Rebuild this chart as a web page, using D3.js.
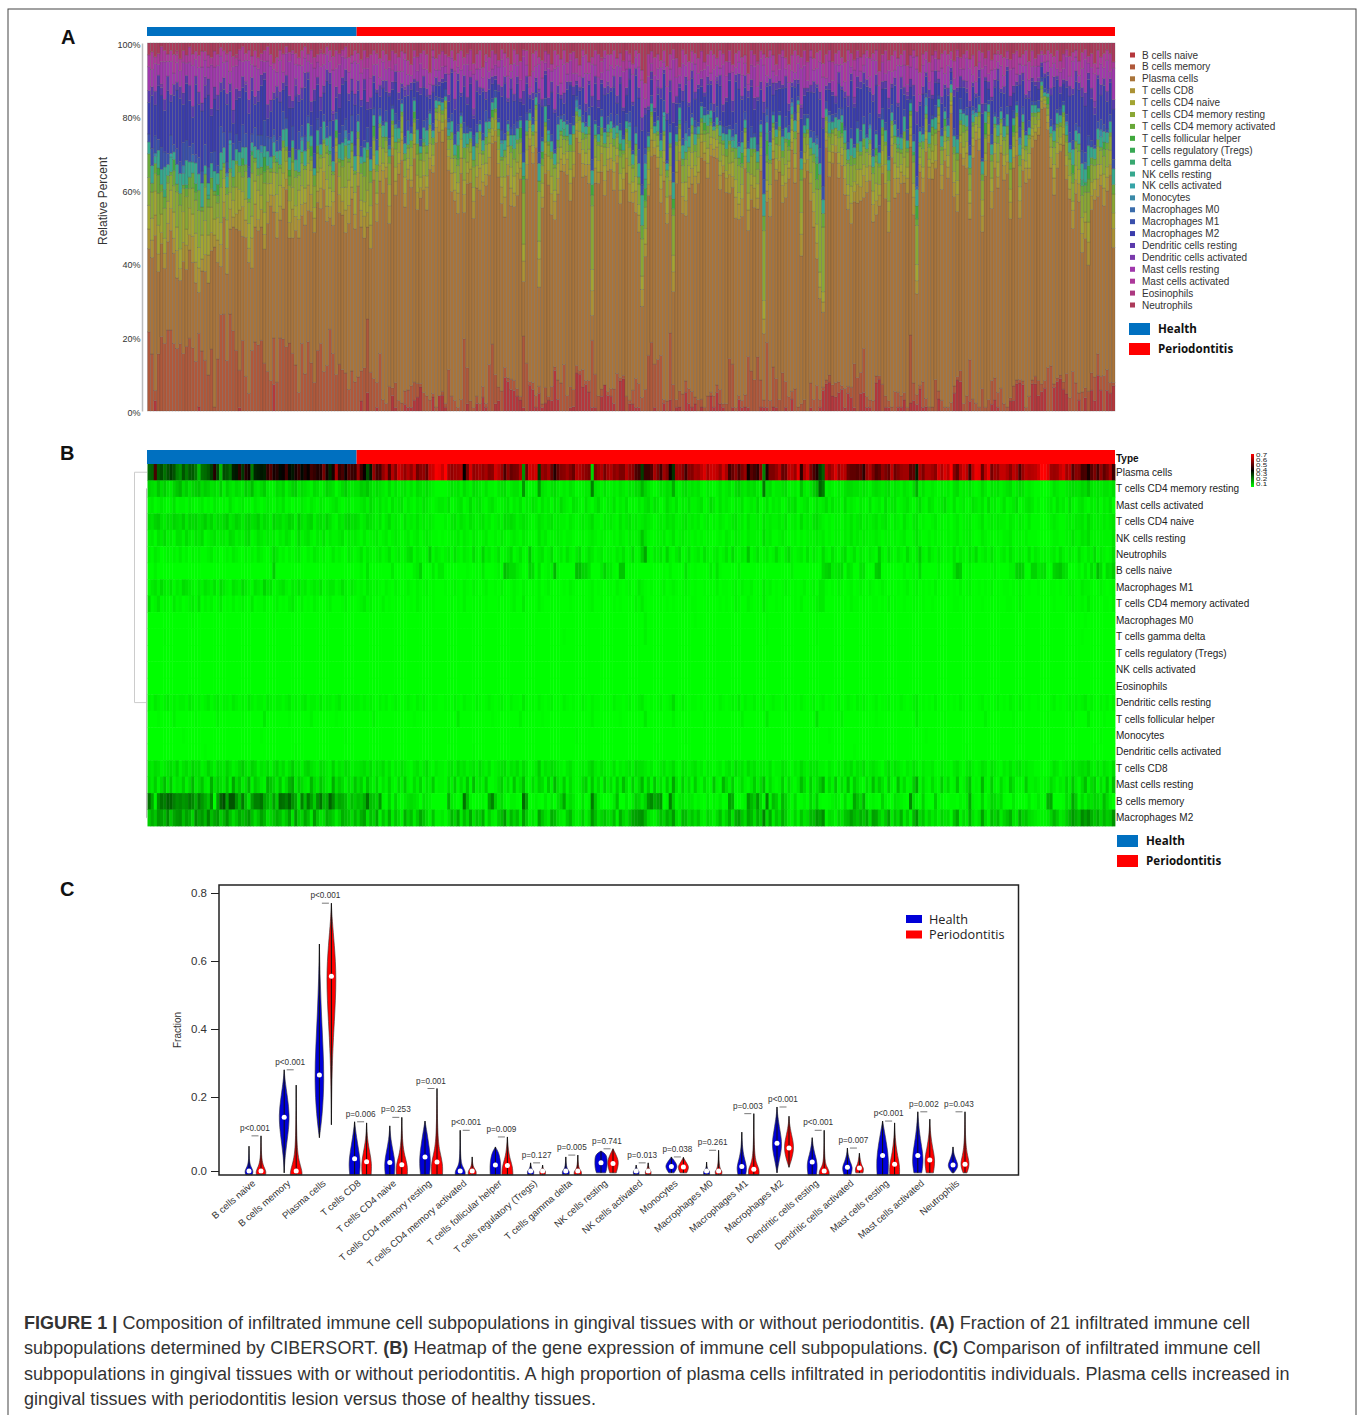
<!DOCTYPE html>
<html>
<head>
<meta charset="utf-8">
<script src="https://cdn.jsdelivr.net/npm/d3@7"></script>
<style>
  body { margin: 0; background: #fff; }
  text { font-family: "Liberation Sans", Arial, sans-serif; }
</style>
</head>
<body>
<div id="fig"></div>
<script>
// cell types, in the order of the stacked bars and of panel C
var cellTypes = ['B cells naive', 'B cells memory', 'Plasma cells', 'T cells CD8', 'T cells CD4 naive', 'T cells CD4 memory resting', 'T cells CD4 memory activated', 'T cells follicular helper', 'T cells regulatory (Tregs)', 'T cells gamma delta', 'NK cells resting', 'NK cells activated', 'Monocytes', 'Macrophages M0', 'Macrophages M1', 'Macrophages M2', 'Dendritic cells resting', 'Dendritic cells activated', 'Mast cells resting', 'Mast cells activated', 'Eosinophils', 'Neutrophils'];
var cellColors = ['#b5373c', '#b0583a', '#a9743a', '#ab9234', '#a3a532', '#8aa734', '#68a838', '#3fa83c', '#37a853', '#38a870', '#36a88e', '#36a4a8', '#3a89a8', '#3a6cac', '#3a50ac', '#3a3cac', '#5a3aac', '#7a3aac', '#a038ac', '#ac389a', '#ac3880', '#ac3a5a'];
var heatmapRows = ['Plasma cells', 'T cells CD4 memory resting', 'Mast cells activated', 'T cells CD4 naive', 'NK cells resting', 'Neutrophils', 'B cells naive', 'Macrophages M1', 'T cells CD4 memory activated', 'Macrophages M0', 'T cells gamma delta', 'T cells regulatory (Tregs)', 'NK cells activated', 'Eosinophils', 'Dendritic cells resting', 'T cells follicular helper', 'Monocytes', 'Dendritic cells activated', 'T cells CD8', 'Mast cells resting', 'B cells memory', 'Macrophages M2'];
var groups = ['Health', 'Periodontitis'];
var healthCount = 67;

// percent per sample: first 67 samples are Health, the rest Periodontitis
var bNaive = [0,0,3,0,0,0,0,0,0,0,0,0,0,0,0,0,1,0,0,0,0,0,0,0,0,0,0,0,0,1,0,0,0,0,0,0,0,0,0,0,8,0,0,0,0,0,0,0,0,0,0,0,0,0,0,0,0,0,0,0,0,0,0,0,0,0,0,
0,3,0,5,0,0,1,0,0,0,0,4,1,0,0,2,1,1,3,4,7,0,0,0,4,0,4,
4,1,0,0,0,0,0,0,2,0,0,2,0,4,1,0,0,2,3,0,10,8,6,6,4,3,1,
0,7,6,1,5,1,2,3,3,11,3,0,0,0,1,1,10,10,7,7,5,1,1,0,4,7,4,
4,2,0,9,9,0,2,2,1,1,0,0,0,0,1,0,0,2,0,3,0,1,1,0,5,2,1,
2,0,1,0,0,4,1,5,2,1,0,0,1,0,3,1,1,1,0,0,0,1,1,1,0,1,1,
0,0,1,0,3,0,0,0,0,0,1,0,0,1,6,7,8,4,4,5,6,1,5,4,1,0,5,
5,1,1,0,8,9,0,1,1,0,0,1,1,3,0,2,3,2,6,1,1,0,0,0,3,0,0,
0,0,5,9,8,0,0,3,0,0,0,0,0,0,2,3,1,0,0,0,3,3,7,8,7,0,0,
7,7,4,5,6,0,0,7,8,9,6,5,0,0,0,3,0,4,0,6,3,10,6,0,6,5,8];
var bMemory = [20,13,3,16,20,18,22,22,18,16,17,15,16,19,17,12,18,15,12,9,17,1,14,22,25,14,24,24,16,11,19,10,5,14,18,18,20,13,11,8,14,8,21,20,18,22,16,13,5,18,10,19,14,8,16,20,11,12,22,17,10,13,12,10,6,10,8,
10,9,12,20,10,9,7,15,3,2,7,2,7,3,2,4,5,6,5,4,1,5,4,3,1,1,0,
1,1,12,4,3,1,3,20,10,3,1,2,2,3,1,13,18,8,4,6,3,1,3,3,2,1,21,
13,1,2,3,2,1,4,1,4,1,5,7,13,4,6,4,2,1,5,1,3,19,9,4,2,0,1,
2,4,10,1,1,4,1,4,8,7,4,7,15,17,12,14,16,1,3,18,8,2,4,5,3,4,4,
2,3,2,1,4,1,3,2,4,1,2,14,12,1,1,2,3,15,11,8,15,7,2,18,3,10,8,
3,11,7,4,2,6,1,2,3,0,7,3,8,2,1,1,2,3,4,3,1,6,2,3,13,9,6,
12,3,2,3,2,1,7,3,2,1,5,4,3,2,1,17,5,3,1,7,2,1,1,8,2,3,1,
1,2,2,1,3,2,4,13,3,2,1,7,1,3,7,6,4,6,2,1,1,4,1,1,1,1,4,
1,2,4,2,2,12,13,1,1,1,2,6,4,13,8,2,6,3,6,5,7,6,4,10,6,3,1];
var plasma = [21,22,45,23,25,20,24,27,24,18,16,24,19,23,23,19,10,20,21,23,27,40,26,11,25,24,21,31,32,41,28,40,37,19,30,31,32,31,41,46,38,40,34,36,44,34,32,38,42,34,40,36,44,42,39,40,51,38,30,38,58,42,45,37,46,43,42,
56,43,36,25,32,55,45,45,55,60,46,60,53,64,60,55,60,55,62,50,54,55,49,62,63,69,68,
63,72,58,55,57,57,59,35,51,64,55,56,58,55,58,53,54,64,61,56,45,55,49,51,52,59,16,
50,64,62,64,28,56,54,58,49,40,48,53,54,57,53,49,60,59,56,54,52,7,52,56,59,51,57,
59,54,56,52,52,60,55,54,46,44,27,43,43,46,58,52,44,57,53,37,28,57,57,53,44,54,53,
58,57,61,65,58,63,63,61,56,64,58,44,49,54,46,52,56,37,47,44,41,54,18,39,52,52,55,
60,49,50,61,61,56,67,41,59,64,52,45,40,27,22,60,55,59,65,56,61,60,50,48,48,47,49,
41,56,59,52,46,48,55,52,49,61,50,53,56,57,57,47,48,31,58,52,59,59,57,54,65,59,65,
61,70,53,48,59,64,60,44,61,68,67,49,61,67,51,57,55,62,62,59,54,61,58,46,56,61,59,
60,61,64,71,72,66,57,56,57,62,65,57,60,47,54,53,44,45,38,47,52,44,55,48,52,58,43];
var cd8 = [5,4,6,5,3,4,5,6,4,7,3,5,6,4,7,5,6,3,4,7,5,3,6,5,4,7,5,3,4,6,8,5,4,7,6,3,5,4,6,3,5,7,4,6,3,5,8,4,5,3,6,7,5,4,3,6,5,4,3,7,3,5,4,6,5,3,4,
4,5,6,4,6,3,5,4,6,3,5,2,4,3,5,4,3,2,4,5,3,4,6,3,2,4,3,
3,2,4,5,3,6,4,5,3,4,5,3,6,4,3,5,2,3,4,5,6,3,5,4,6,3,6,
4,2,3,4,8,3,5,4,6,5,4,3,2,4,5,3,2,3,4,3,5,7,4,3,5,4,3,
3,5,2,4,3,4,5,3,6,5,5,4,3,4,2,3,4,5,3,4,6,3,2,5,4,3,4,
5,3,4,2,4,3,2,3,4,2,4,5,3,6,4,5,3,6,4,5,3,4,4,3,5,2,3,
3,5,4,3,2,4,3,6,4,3,5,4,5,3,3,2,4,3,2,4,3,5,4,6,3,5,4,
6,3,4,5,4,3,2,4,6,3,5,4,3,2,4,3,5,4,2,4,3,3,4,2,2,4,3,
3,2,4,5,3,2,4,5,3,2,3,5,4,2,5,4,3,2,4,3,5,3,4,5,3,4,3,
3,2,2,2,1,2,3,5,4,2,3,4,3,6,4,5,6,5,7,4,3,5,3,5,4,3,6];
var cd4Naive = [6,5,7,8,5,4,6,5,7,6,5,8,4,7,6,7,5,6,8,5,7,4,6,5,6,8,4,5,7,6,4,6,7,5,6,8,4,6,5,3,7,5,6,4,5,7,6,3,8,5,4,6,7,3,5,6,4,7,5,3,2,5,4,6,7,5,6,
5,3,4,6,5,4,3,5,2,4,6,3,4,3,2,5,3,4,3,5,3,4,3,4,3,2,2,
2,3,2,4,5,3,5,4,3,5,4,3,4,5,3,4,2,3,4,3,6,5,6,5,3,4,5,
4,3,2,3,5,4,3,4,5,3,4,3,3,2,4,3,2,3,4,3,4,6,3,3,2,4,3,
4,3,2,5,3,4,5,3,4,3,4,5,4,3,2,3,4,3,5,4,5,3,3,4,5,3,4,
3,4,2,3,4,2,3,2,4,3,2,3,4,5,3,4,2,5,3,3,4,2,5,3,4,3,3,
4,3,5,2,3,4,2,6,3,4,3,5,6,4,3,2,3,2,3,3,2,4,3,5,3,4,5,
3,4,3,4,5,3,4,5,3,2,4,3,2,5,3,2,4,5,2,3,2,2,3,4,2,3,2,
3,1,3,4,2,3,3,4,2,2,3,5,2,3,4,3,4,3,3,2,4,3,2,4,3,2,4,
2,2,2,1,1,2,3,4,3,2,2,3,4,3,4,4,5,3,6,4,3,4,3,4,3,4,5];
var cd4Resting = [7,6,5,9,6,8,5,4,7,9,11,6,8,5,7,8,9,6,8,7,5,6,4,8,3,7,5,4,6,5,4,8,6,10,5,4,6,8,4,3,3,6,5,7,3,5,7,8,4,6,5,4,3,6,5,3,4,7,6,5,2,4,6,8,5,4,5,
5,8,7,9,6,4,6,5,4,3,6,3,5,3,4,5,3,5,3,6,5,4,6,4,3,2,2,
2,2,3,5,4,5,3,6,4,3,6,5,4,3,5,3,3,2,4,5,6,3,4,5,5,3,15,
4,2,3,3,14,5,4,3,5,6,4,3,4,3,5,4,2,3,3,4,4,18,5,4,3,5,3,
3,4,3,5,4,3,5,4,6,6,11,7,5,3,2,3,5,4,6,5,12,4,3,5,6,4,5,
4,5,3,2,4,3,2,3,5,3,4,5,3,6,7,5,4,6,5,6,4,3,19,5,6,3,4,
4,5,6,3,3,4,2,9,4,3,5,8,11,22,19,3,4,3,2,4,3,5,6,6,5,5,4,
5,4,3,5,6,5,4,5,6,3,5,4,3,5,4,3,6,12,3,5,3,3,4,3,2,4,3,
4,2,5,6,3,4,3,5,3,2,3,6,4,2,5,4,5,3,4,5,6,3,4,6,5,3,4,
3,2,2,2,1,2,3,5,4,3,3,4,5,6,5,5,7,6,9,5,4,5,4,5,5,4,6];
var cd4Activated = [6,2,3,5,2,3,2,1,4,2,3,1,2,3,4,2,5,1,3,2,3,1,2,4,1,2,1,3,1,2,3,2,1,4,1,2,2,3,1,1,2,3,1,2,1,3,4,2,1,3,1,2,1,3,2,1,1,2,3,1,0,1,2,3,1,2,1,
2,3,4,2,3,1,2,1,3,1,2,1,2,1,1,2,1,2,1,3,2,1,2,1,2,1,0,
1,0,1,2,1,2,1,3,1,1,2,1,2,1,2,1,0,1,2,1,2,1,2,3,1,1,4,
1,0,1,1,3,2,1,1,2,1,2,1,1,1,2,0,1,1,2,1,2,3,1,1,2,1,1,
1,2,1,2,1,1,2,1,3,2,4,2,1,1,0,1,2,1,2,1,2,1,1,2,2,1,2,
2,1,1,1,2,1,0,1,2,1,2,1,1,3,2,1,1,3,2,1,2,1,4,2,1,1,2,
1,2,1,1,1,2,0,3,1,1,2,2,3,4,4,1,1,1,0,2,1,2,1,3,2,2,1,
2,1,1,2,2,1,2,1,3,1,2,1,1,2,1,1,2,2,1,2,1,1,2,1,0,1,1,
1,0,2,2,1,2,1,2,1,0,1,2,1,1,2,1,2,1,1,2,2,1,1,3,2,1,1,
1,1,0,1,0,1,1,2,1,1,1,2,2,3,2,2,3,2,4,2,2,2,1,2,2,1,3];
var nkResting = [3,4,2,5,4,6,3,4,2,5,5,3,6,4,3,5,4,6,2,3,4,5,3,4,4,3,6,5,3,4,3,5,6,2,3,5,4,3,4,3,4,2,4,3,5,4,2,3,6,3,4,5,3,2,4,3,5,2,4,3,3,4,5,2,4,3,4,
3,2,4,2,3,3,4,2,3,4,2,3,4,3,2,3,4,2,3,4,2,3,4,3,2,2,1,
2,1,2,3,3,4,2,4,3,2,4,3,2,3,4,2,2,3,2,4,3,2,3,4,3,2,4,
3,2,2,2,5,3,4,2,3,3,4,3,2,3,3,2,1,2,3,2,3,4,3,2,3,3,2,
2,3,2,4,3,2,4,3,3,4,9,5,3,2,2,3,3,4,2,3,5,2,3,4,3,3,2,
3,2,3,2,3,2,1,2,3,2,4,3,2,4,3,3,2,4,3,3,3,2,6,3,4,2,2,
3,4,3,2,2,3,1,3,2,3,3,3,4,3,4,2,3,2,3,3,2,4,3,5,3,4,3,
4,3,3,3,4,3,2,3,3,2,3,2,3,4,2,2,3,5,3,2,2,3,2,3,2,3,2,
3,2,3,4,2,3,3,4,2,1,2,4,3,2,3,2,3,2,3,3,4,2,2,3,2,3,2,
2,2,1,1,1,1,2,3,3,2,2,3,3,5,3,3,5,4,6,3,3,3,3,3,3,3,5];
var macrophagesM1 = [2,4,5,3,6,4,3,5,2,4,3,6,5,4,3,2,4,3,5,4,3,5,2,6,4,3,2,5,4,3,6,4,3,2,5,4,3,7,4,5,2,3,4,5,3,2,4,3,5,3,4,2,3,4,3,5,2,3,4,4,2,3,5,3,2,4,3,
2,3,2,4,3,2,3,2,1,3,2,1,3,2,1,2,3,2,1,3,2,2,3,1,2,1,1,
1,2,1,2,3,2,1,3,2,1,3,2,1,2,3,1,1,2,1,3,2,1,2,3,2,1,3,
2,1,2,1,3,1,2,3,2,1,2,1,2,1,3,2,1,1,2,1,2,3,1,2,2,1,2,
2,1,3,2,1,2,3,1,2,4,3,2,1,2,1,1,2,3,1,2,3,2,1,2,3,2,1,
2,1,1,2,1,2,1,3,1,2,2,1,2,3,1,3,2,2,3,1,2,1,4,2,3,1,2,
1,2,3,2,1,2,1,2,3,1,2,3,1,4,4,2,1,2,1,3,2,1,2,3,1,2,3,
2,1,3,2,1,2,3,2,1,2,1,2,1,2,3,1,2,3,1,2,1,2,1,3,1,2,1,
2,1,2,1,3,1,2,3,1,1,2,1,2,1,3,1,2,1,2,2,1,2,1,3,2,1,2,
1,1,2,1,1,1,2,2,1,2,1,2,3,3,2,2,4,3,3,2,1,2,3,2,1,2,3];
var macrophagesM2 = [8,12,9,15,14,11,17,9,13,15,16,10,14,12,7,17,13,15,11,18,10,13,15,8,11,16,10,6,9,13,10,12,15,10,6,9,14,11,5,7,9,12,10,6,9,14,5,15,8,7,13,10,4,15,9,5,6,12,10,8,4,7,12,10,9,6,11,
7,12,14,5,10,7,13,3,9,5,12,4,9,6,3,12,7,10,4,8,13,9,6,3,9,3,3,
4,2,5,11,7,13,4,10,6,13,5,9,7,12,3,8,4,3,8,10,15,5,11,7,10,4,14,
8,3,5,3,14,9,6,4,12,10,6,4,3,8,11,5,3,4,8,3,6,15,10,5,7,9,6,
6,10,3,12,7,5,9,13,14,15,16,11,6,4,3,6,10,7,12,9,15,6,4,11,10,6,9,
6,9,4,3,7,5,3,6,10,4,7,12,5,12,14,9,6,13,11,6,12,8,18,6,13,4,9,
6,12,8,4,3,7,3,9,5,6,11,10,15,13,17,3,6,5,3,7,5,9,10,14,11,9,12,
9,13,6,14,13,8,5,9,14,4,9,6,12,4,8,3,11,16,6,9,4,7,4,6,3,7,5,
6,2,9,13,3,6,4,12,5,3,5,14,6,3,10,7,10,4,7,9,12,5,4,12,7,9,6,
5,4,3,3,3,4,7,11,8,4,5,8,11,15,12,10,17,14,17,12,9,12,7,11,8,9,16];
var dcResting = [3,2,4,3,2,3,4,2,3,2,3,3,2,4,3,2,3,2,3,4,2,3,4,2,3,3,2,4,3,2,3,2,4,3,2,3,3,2,4,3,2,3,3,2,3,4,2,3,2,3,4,2,3,3,2,4,2,3,3,2,3,4,2,3,2,3,3,
3,2,3,2,3,2,1,3,2,3,1,2,3,2,1,2,3,2,1,3,2,3,2,1,2,2,1,
1,2,2,1,3,2,1,3,2,2,1,3,2,1,2,3,2,1,2,3,2,1,3,2,2,1,4,
2,1,2,1,3,2,1,2,3,1,2,1,3,2,1,2,1,1,3,2,1,3,2,2,1,2,2,
1,3,2,2,1,2,3,1,2,3,4,2,1,2,1,2,3,1,2,3,6,2,1,3,2,1,2,
2,1,2,1,2,1,2,1,3,2,1,2,3,2,4,1,3,2,2,3,1,2,3,1,2,3,2,
2,1,3,2,1,2,1,3,2,1,2,3,1,2,3,1,2,1,2,3,1,2,3,2,1,3,2,
3,2,1,2,3,1,2,2,3,1,2,1,3,2,1,2,3,4,1,2,1,2,1,3,1,2,1,
2,1,2,1,3,2,1,2,1,1,2,3,1,2,1,2,3,1,2,1,3,2,1,3,2,1,2,
1,1,2,1,1,1,2,3,1,2,1,2,3,2,3,2,3,4,2,3,2,1,3,2,3,1,3];
var mastResting = [6,4,8,3,6,10,4,9,3,5,4,8,3,6,11,4,6,9,4,3,12,5,8,6,4,9,3,13,6,9,4,6,11,3,8,6,4,3,12,9,7,4,9,3,6,11,13,4,8,6,4,3,11,6,4,9,6,4,3,12,5,8,6,3,6,4,9,
5,8,3,9,5,3,7,2,5,3,7,3,2,6,3,8,3,2,6,3,7,2,5,3,8,2,3,
3,2,6,3,8,2,6,3,9,2,10,3,5,3,8,2,2,3,5,8,3,6,2,9,3,5,10,
3,2,6,3,7,6,2,8,3,11,5,3,8,2,6,3,2,3,6,8,2,9,3,6,2,8,3,
6,2,8,3,10,5,2,8,3,6,11,3,8,2,9,3,6,2,8,3,13,5,2,8,3,6,2,
8,3,2,6,3,2,9,3,2,11,6,3,8,2,3,6,3,2,4,8,3,6,10,2,6,3,2,
3,8,2,6,3,2,4,10,6,2,8,3,5,8,12,2,6,3,9,2,6,3,10,2,8,5,3,
2,6,3,10,4,8,5,2,8,3,2,10,3,6,2,3,8,13,2,6,3,2,6,3,2,8,3,
6,2,3,9,2,3,6,10,2,3,2,11,3,2,8,3,2,6,3,2,8,5,2,3,2,8,3,
3,4,3,2,3,3,6,4,2,4,3,7,3,9,4,2,6,10,3,6,8,2,6,3,9,2,10];
var mastActivated = [3,4,2,3,4,3,2,3,5,2,3,3,2,4,3,2,3,4,2,3,2,4,3,2,3,2,5,3,2,3,4,2,3,2,4,3,2,3,4,3,2,4,3,5,2,3,1,3,2,4,3,2,4,3,2,4,3,2,3,4,5,3,2,3,4,2,3,
3,4,5,3,6,4,3,5,3,4,2,5,3,4,5,2,4,3,2,4,3,5,4,3,2,3,4,
4,3,5,2,3,4,5,2,3,6,3,4,5,3,2,4,5,3,2,3,4,5,2,4,3,5,2,
4,3,5,4,2,5,3,4,2,5,3,6,4,3,2,5,4,3,2,5,3,2,4,6,3,2,4,
3,5,2,4,3,5,2,3,2,4,3,5,6,3,5,4,2,3,6,4,3,5,2,4,3,5,3,
3,4,5,2,3,6,4,2,5,3,4,3,2,4,3,5,2,3,4,3,6,2,3,5,2,4,3,
4,2,3,5,4,6,2,3,4,5,2,3,5,3,4,6,3,5,3,4,2,6,3,4,3,2,4,
3,2,5,2,3,4,2,6,3,4,5,2,3,4,5,3,2,4,6,3,2,5,4,2,3,4,6,
3,2,5,2,3,4,2,3,5,4,3,5,2,6,3,4,2,3,5,2,3,4,6,2,3,4,5,
4,2,3,1,2,3,4,2,5,3,4,2,6,3,2,4,5,3,2,4,3,5,2,4,3,5,2];
var neutrophils = [3,2,4,3,1,2,3,2,3,2,4,2,3,1,3,2,3,2,2,3,4,2,3,1,2,3,2,4,3,2,1,3,2,3,2,4,3,2,1,3,6,4,2,3,1,3,2,3,4,2,1,3,2,4,3,2,3,1,2,4,2,3,2,1,4,3,2,
3,5,2,4,3,2,3,4,2,3,5,2,3,4,2,3,5,6,2,4,3,2,3,8,2,4,3,
2,3,4,2,5,3,2,4,3,2,6,3,2,7,3,4,2,3,5,2,3,4,6,2,3,5,2,
2,9,3,2,4,5,2,3,6,2,3,4,2,5,3,2,4,6,2,3,5,4,2,3,4,2,3,
3,2,4,3,5,2,3,6,2,3,8,13,3,2,4,3,5,2,7,3,2,4,6,2,3,5,2,
3,4,2,5,3,2,3,4,2,3,5,2,6,3,2,4,3,9,2,3,5,2,3,4,2,3,6,
3,2,4,6,3,2,3,4,2,5,2,4,3,2,6,3,2,5,3,2,4,6,2,3,5,2,4,
3,2,4,3,2,8,3,2,5,3,2,4,3,2,6,3,2,4,8,3,2,5,3,2,4,3,2,
3,2,5,2,4,3,2,5,3,6,2,3,4,2,5,3,2,3,4,2,5,3,2,4,3,2,5,
2,4,3,2,3,2,3,4,2,5,3,2,4,3,2,5,3,2,4,3,6,2,4,3,2,3,6];

// rare cell types, only the samples where they show up: [sample, percent]
var tfhPeaks = [[3,2],[8,3],[15,2],[22,3],[30,2],[37,4],[45,2],[52,3],[60,2],[72,3],[85,2],[99,4],[110,2],[119,3],[126,2],[142,3],[151,2],[159,4],[168,3],[178,2],[190,3],[198,4],[205,2],[214,5],[222,3],[233,2],[246,4],[255,2],[268,3],[277,2],[288,2],[296,3],[301,4],[306,2]];
var tregsPeaks = [[12,1],[33,1],[58,1],[120,1],[180,1],[245,1],[300,1]];
var gammaDeltaPeaks = [[5,2],[19,1],[41,1],[88,1],[133,2],[159,3],[170,1],[198,2],[214,2],[240,1],[299,2]];
var nkActivatedPeaks = [[7,1],[26,1],[64,1],[128,1],[165,1],[199,1],[260,1]];
var monocytesPeaks = [[2,1],[11,2],[25,1],[36,2],[49,1],[63,2],[79,1],[96,2],[113,1],[137,2],[154,1],[172,2],[187,1],[206,1],[218,2],[231,1],[249,2],[264,1],[279,2],[294,1],[305,2]];
var m0Peaks = [[14,2],[40,2],[77,1],[159,3],[175,2],[198,2],[214,2],[246,1],[300,2]];
var dcActivatedPeaks = [[4,1],[18,2],[31,1],[47,2],[59,1],[82,1],[104,2],[125,1],[147,1],[163,2],[182,1],[209,1],[226,2],[243,1],[262,2],[285,1],[303,2]];
var eosinophilsPeaks = [[9,1],[28,1],[55,1],[145,1],[195,1],[272,1]];

// panel C, violin outlines as [fraction, relative width], same order as cellTypes
var healthViolin = [
  [[-.01,.5],[0,.7],[.012,.25],[.03,.03],[.067,0]],
  [[-.005,0],[.04,.12],[.1,.6],[.15,.85],[.2,.5],[.25,.12],[.28,0]],
  [[.09,0],[.15,.45],[.25,.75],[.35,.55],[.45,.3],[.55,.1],[.65,0]],
  [[-.01,.75],[.02,.9],[.05,.7],[.09,.3],[.133,0]],
  [[-.01,.7],[.02,.85],[.05,.55],[.085,.15],[.122,0]],
  [[-.01,.7],[.03,.9],[.07,.6],[.105,.3],[.135,0]],
  [[-.01,.75],[0,.8],[.012,.35],[.03,.05],[.11,0]],
  [[-.01,.8],[.015,.85],[.035,.7],[.05,.5],[.065,0]],
  [[-.01,.45],[0,.55],[.006,.12],[.022,0]],
  [[-.01,.5],[0,.6],[.006,.1],[.038,0]],
  [[-.005,.7],[.01,.95],[.03,.95],[.045,.85],[.054,0]],
  [[-.01,.4],[0,.5],[.005,.1],[.016,0]],
  [[-.005,.4],[.01,.95],[.02,.75],[.03,.35],[.038,0]],
  [[-.01,.45],[0,.5],[.005,.08],[.024,0]],
  [[-.01,.6],[.01,.8],[.03,.45],[.06,.1],[.105,0]],
  [[-.005,0],[.03,.35],[.07,.85],[.11,.45],[.15,.1],[.173,0]],
  [[-.01,.65],[.02,.85],[.045,.4],[.07,.12],[.09,0]],
  [[-.01,.55],[.01,.85],[.025,.4],[.045,.1],[.062,0]],
  [[-.01,.85],[.03,.95],[.07,.65],[.11,.25],[.135,0]],
  [[-.005,.6],[.03,.9],[.065,.6],[.11,.2],[.16,0]],
  [[-.005,.15],[.012,.85],[.025,.6],[.045,.12],[.065,0]]
];
var perioViolin = [
  [[-.01,.7],[0,.8],[.015,.3],[.04,.06],[.095,0]],
  [[-.01,.9],[0,.9],[.02,.55],[.05,.18],[.12,.04],[.235,0]],
  [[.125,0],[.3,.1],[.42,.45],[.55,.8],[.65,.45],[.72,.12],[.77,0]],
  [[-.01,.7],[.02,.8],[.05,.5],[.085,.12],[.13,0]],
  [[-.01,.85],[.015,.9],[.04,.45],[.075,.1],[.145,0]],
  [[-.01,.85],[.02,.9],[.05,.45],[.09,.1],[.225,0]],
  [[-.01,.6],[0,.65],[.008,.25],[.02,.05],[.038,0]],
  [[-.01,.85],[.012,.8],[.03,.45],[.055,.15],[.092,0]],
  [[-.01,.4],[0,.5],[.005,.1],[.016,0]],
  [[-.01,.55],[0,.6],[.006,.1],[.043,0]],
  [[-.005,.5],[.02,.9],[.035,.7],[.05,.3],[.06,0]],
  [[-.01,.4],[0,.5],[.006,.1],[.022,0]],
  [[-.005,.5],[.01,.9],[.02,.55],[.03,.2],[.037,0]],
  [[-.01,.45],[0,.6],[.006,.1],[.056,0]],
  [[-.01,.8],[.005,.85],[.02,.4],[.05,.06],[.155,0]],
  [[.01,0],[.03,.4],[.065,.85],[.1,.35],[.13,.06],[.148,0]],
  [[-.01,.75],[0,.8],[.012,.35],[.03,.06],[.11,0]],
  [[-.005,.55],[.008,.7],[.016,.25],[.048,0]],
  [[-.01,.75],[.015,.8],[.05,.35],[.09,.08],[.13,0]],
  [[-.005,.55],[.03,.85],[.06,.45],[.1,.1],[.14,0]],
  [[-.005,.3],[.018,.75],[.04,.4],[.075,.08],[.16,0]]
];
// panel C has no Eosinophils column
var violinCats = cellTypes.filter(function(d){ return d !== 'Eosinophils'; });
var healthMedian = [0,.145,.265,.033,.023,.038,0,.016,0,0,.022,0,.012,0,.012,.075,.024,.01,.042,.042,.016];
var perioMedian = [0,0,.555,.025,.017,.024,0,.015,0,0,.02,0,.011,0,.005,.062,0,.008,.018,.03,.018];
var pLabels = ['p<0.001','p<0.001','p<0.001','p=0.006','p=0.253','p=0.001','p<0.001','p=0.009','p=0.127','p=0.005','p=0.741','p=0.013','p=0.038','p=0.261','p=0.003','p<0.001','p<0.001','p=0.007','p<0.001','p=0.002','p=0.043'];
var fractionTicks = [0, .2, .4, .6, .8];
var percentTicks = [0, .2, .4, .6, .8, 1];
var colorbarTicks = [.7, .6, .5, .4, .3, .2, .1];

var captionLines = [
  [['FIGURE 1 |', true], [' Composition of infiltrated immune cell subpopulations in gingival tissues with or without periodontitis. ', false], ['(A)', true], [' Fraction of 21 infiltrated immune cell', false]],
  [['subpopulations determined by CIBERSORT. ', false], ['(B)', true], [' Heatmap of the gene expression of immune cell subpopulations. ', false], ['(C)', true], [' Comparison of infiltrated immune cell', false]],
  [['subpopulations in gingival tissues with or without periodontitis. A high proportion of plasma cells infiltrated in periodontitis individuals. Plasma cells increased in', false]],
  [['gingival tissues with periodontitis lesion versus those of healthy tissues.', false]]
];

var groupColorA = {'Health': '#0070c0', 'Periodontitis': '#ff0000'};
var groupColorC = {'Health': '#0000d8', 'Periodontitis': '#ff0000'};

var nSamples = plasma.length;

function fromPeaks(peaks){
  var out = d3.range(nSamples).map(function(){ return 0; });
  peaks.forEach(function(p){ out[p[0]] = p[1]; });
  return out;
}

var seriesByType = {
  'B cells naive': bNaive, 'B cells memory': bMemory, 'Plasma cells': plasma, 'T cells CD8': cd8,
  'T cells CD4 naive': cd4Naive, 'T cells CD4 memory resting': cd4Resting, 'T cells CD4 memory activated': cd4Activated,
  'T cells follicular helper': fromPeaks(tfhPeaks), 'T cells regulatory (Tregs)': fromPeaks(tregsPeaks),
  'T cells gamma delta': fromPeaks(gammaDeltaPeaks), 'NK cells resting': nkResting, 'NK cells activated': fromPeaks(nkActivatedPeaks),
  'Monocytes': fromPeaks(monocytesPeaks), 'Macrophages M0': fromPeaks(m0Peaks), 'Macrophages M1': macrophagesM1,
  'Macrophages M2': macrophagesM2, 'Dendritic cells resting': dcResting, 'Dendritic cells activated': fromPeaks(dcActivatedPeaks),
  'Mast cells resting': mastResting, 'Mast cells activated': mastActivated, 'Eosinophils': fromPeaks(eosinophilsPeaks), 'Neutrophils': neutrophils
};

var samples = d3.range(nSamples).map(function(i){
  var row = {id: i};
  cellTypes.forEach(function(t){ row[t] = seriesByType[t][i] || 0; });
  return row;
});

var svg = d3.select('#fig').append('svg').attr('width', 1357).attr('height', 1415).style('display', 'block');

// figure frame, bottom edge runs off the page
svg.append('rect').attr('x', 8).attr('y', 9).attr('width', 1348).attr('height', 1500)
  .attr('fill', 'none').attr('stroke', '#444').attr('stroke-width', 1);

[['A', 61, 44], ['B', 60, 460], ['C', 60, 896]].forEach(function(d){
  svg.append('text').attr('x', d[1]).attr('y', d[2]).text(d[0])
    .style('font-size', '20px').style('font-weight', 'bold').attr('fill', '#111');
});

var sampleX = d3.scaleBand().domain(d3.range(nSamples)).range([147.5, 1115]);

function groupBar(y, h){
  var g = svg.append('g');
  var split = sampleX(healthCount);
  g.append('rect').attr('x', 147).attr('y', y).attr('width', split - 147).attr('height', h).attr('fill', groupColorA.Health);
  g.append('rect').attr('x', split).attr('y', y).attr('width', 1115 - split).attr('height', h).attr('fill', groupColorA.Periodontitis);
}

function groupKey(x, y0, y1){
  groups.forEach(function(d, i){
    var y = i ? y1 : y0;
    svg.append('rect').attr('x', x).attr('y', y).attr('width', 21).attr('height', 12).attr('fill', groupColorA[d]);
    svg.append('text').attr('x', x + 29).attr('y', y + 10).text(d)
      .style('font-family', '"Open Sans", sans-serif').style('font-size', '11.6px').style('font-weight', 'bold').attr('fill', '#111');
  });
}

/* panel A */
groupBar(27, 9);

var yPercent = d3.scaleLinear().domain([0, 1]).range([411, 43]);
var stacked = d3.stack().keys(cellTypes).offset(d3.stackOffsetExpand)(samples);

svg.append('g').selectAll('g')
  .data(stacked)
  .enter().append('g')
    .attr('fill', function(d, i){ return cellColors[i]; })
  .selectAll('rect')
  .data(function(d){ return d.filter(function(v){ return v[1] > v[0]; }); })
  .enter().append('rect')
    .attr('x', function(d){ return sampleX(d.data.id); })
    .attr('y', function(d){ return yPercent(d[1]); })
    .attr('width', sampleX.bandwidth())
    .attr('height', function(d){ return yPercent(d[0]) - yPercent(d[1]); })
    .attr('stroke', '#4a4a4a')
    .attr('stroke-opacity', .35)
    .attr('stroke-width', .7);

var axisA = svg.append('g').attr('transform', 'translate(142,0)')
  .call(d3.axisLeft(yPercent).tickValues(percentTicks).tickFormat(d3.format('.0%')).tickSize(0).tickPadding(1.5));
axisA.select('.domain').attr('stroke', '#bbb').attr('stroke-width', 1.5);
axisA.selectAll('text').attr('dy', '.45em').style('font-size', '9px').attr('fill', '#333');

svg.append('text').attr('transform', 'translate(107,201) rotate(-90)').attr('text-anchor', 'middle')
  .text('Relative Percent').style('font-size', '12px').attr('fill', '#333');

var legendY = d3.scalePoint().domain(cellTypes).range([55, 305]);
var legendA = svg.append('g').selectAll('g').data(cellTypes).enter().append('g')
  .attr('transform', function(d){ return 'translate(1130,' + legendY(d) + ')'; });
legendA.append('rect').attr('y', -2.5).attr('width', 5).attr('height', 5)
  .attr('fill', function(d, i){ return cellColors[i]; });
legendA.append('text').attr('x', 12).attr('y', 3.5).text(function(d){ return d; })
  .style('font-size', '10px').attr('fill', '#333');

groupKey(1129, 323, 343);

/* panel B */
groupBar(450, 14);

var rowY = d3.scaleBand().domain(heatmapRows).range([464, 826]);
var heatColor = d3.scaleLinear().domain([.015, .35, .7]).range(['#00ff00', '#000000', '#ff0000']).clamp(true);

var heatRows = svg.append('g').selectAll('g').data(heatmapRows).enter().append('g')
  .attr('transform', function(d){ return 'translate(0,' + rowY(d) + ')'; });
heatRows.selectAll('rect')
  .data(function(t){ return samples.map(function(s){ return {id: s.id, v: s[t] / 100}; }); })
  .enter().append('rect')
    .attr('x', function(d){ return sampleX(d.id); })
    .attr('width', sampleX.bandwidth() + .4)
    .attr('height', rowY.bandwidth() + .4)
    .attr('fill', function(d){ return heatColor(d.v); });
heatRows.append('text').attr('x', 1116).attr('y', rowY.bandwidth() / 2 + 3.5).text(function(d){ return d; })
  .style('font-size', '10px').attr('fill', '#222');

svg.append('text').attr('x', 1116).attr('y', 462).text('Type').style('font-size', '10px').style('font-weight', 'bold').attr('fill', '#111');

// row dendrogram
var rowMid = function(i){ return rowY(heatmapRows[i]) + rowY.bandwidth() / 2; };
svg.append('path').attr('fill', 'none').attr('stroke', '#ccc')
  .attr('d', 'M147,' + rowMid(0) + 'H134.5V' + rowMid(14) + 'H147');
svg.append('path').attr('fill', 'none').attr('stroke', '#bbb')
  .attr('d', 'M147.5,' + rowMid(1) + 'H146.5V' + rowMid(21) + 'H147.5');

var defs = svg.append('defs');
var grad = defs.append('linearGradient').attr('id', 'heatRamp').attr('x1', 0).attr('x2', 0).attr('y1', 0).attr('y2', 1);
[[0, '#ff0000'], [.5, '#000000'], [1, '#00ff00']].forEach(function(d){
  grad.append('stop').attr('offset', d[0]).attr('stop-color', d[1]);
});
svg.append('rect').attr('x', 1251).attr('y', 454).attr('width', 3).attr('height', 33).attr('fill', 'url(#heatRamp)');
var colorbarY = d3.scalePoint().domain(colorbarTicks).range([457, 486]);
svg.append('g').selectAll('text').data(colorbarTicks).enter().append('text')
  .attr('transform', function(d){ return 'translate(1256,' + colorbarY(d) + ') scale(1,.75)'; })
  .text(function(d){ return d3.format('.1f')(d); })
  .style('font-size', '8px').attr('fill', '#222');

groupKey(1117, 835, 855);

/* panel C */
var fracY = d3.scaleLinear().domain([0, .2, .8]).range([1171, 1097, 893]);
var catX = d3.scaleBand().domain(violinCats).range([237.4, 237.4 + 35.2 * violinCats.length]);
var violinW = d3.scaleLinear().domain([0, 1]).range([0, 6.5]);

var axisCx = svg.append('g').attr('transform', 'translate(0,1175)')
  .call(d3.axisBottom(catX).tickSize(0));
axisCx.select('.domain').remove();
axisCx.selectAll('text')
  .attr('text-anchor', 'end').attr('dx', 0).attr('dy', 0)
  .attr('transform', 'translate(-1,7) rotate(-41)')
  .style('font-size', '9.6px').attr('fill', '#333');

var axisCy = svg.append('g').attr('transform', 'translate(219,0)')
  .call(d3.axisLeft(fracY).tickValues(fractionTicks).tickFormat(d3.format('.1f')).tickSize(8).tickPadding(4));
axisCy.select('.domain').remove();
axisCy.selectAll('line').attr('stroke', '#222');
axisCy.selectAll('text').style('font-size', '11.5px').attr('fill', '#333');

svg.append('text').attr('transform', 'translate(181,1030) rotate(-90)').attr('text-anchor', 'middle')
  .text('Fraction').style('font-size', '10px').attr('fill', '#333');

var violinArea = function(cx){
  return d3.area()
    .y(function(d){ return fracY(d[0]); })
    .x0(function(d){ return cx - violinW(d[1]); })
    .x1(function(d){ return cx + violinW(d[1]); })
    .curve(d3.curveBasis);
};

var cats = svg.append('g').selectAll('g').data(violinCats).enter().append('g');
cats.each(function(name, i){
  var g = d3.select(this);
  var center = catX(name) + catX.bandwidth() / 2;
  [[healthViolin[i], healthMedian[i], 'Health', center - 6], [perioViolin[i], perioMedian[i], 'Periodontitis', center + 6]].forEach(function(v){
    var pts = v[0];
    g.append('path').attr('d', violinArea(v[3])(pts))
      .attr('fill', groupColorC[v[2]]).attr('stroke', '#333').attr('stroke-width', .6);
    g.append('line').attr('x1', v[3]).attr('x2', v[3])
      .attr('y1', fracY(pts[0][0])).attr('y2', fracY(pts[pts.length - 1][0]))
      .attr('stroke', '#111').attr('stroke-width', 1);
    g.append('circle').attr('cx', v[3]).attr('cy', fracY(v[1])).attr('r', 2.5).attr('fill', '#fff');
  });
  var top = d3.max([healthViolin[i], perioViolin[i]], function(p){ return p[p.length - 1][0]; });
  g.append('line').attr('x1', center - 3.5).attr('x2', center + 3.5)
    .attr('y1', fracY(top)).attr('y2', fracY(top)).attr('stroke', '#555').attr('stroke-width', .8);
  g.append('text').attr('x', center).attr('y', fracY(top) - 5).attr('text-anchor', 'middle')
    .text(pLabels[i]).style('font-size', '8.2px').attr('fill', '#333');
});

svg.append('rect').attr('x', 219).attr('y', 885).attr('width', 799.5).attr('height', 290)
  .attr('fill', 'none').attr('stroke', '#222').attr('stroke-width', 1.5);

groups.forEach(function(d, i){
  svg.append('rect').attr('x', 906).attr('y', 915 + i * 15.5).attr('width', 16).attr('height', 8).attr('fill', groupColorC[d]);
  svg.append('text').attr('x', 929).attr('y', 923.5 + i * 15.5).text(d)
    .style('font-family', '"Open Sans", sans-serif').style('font-size', '12.7px').attr('fill', '#222');
});

/* caption */
var caption = svg.append('g').selectAll('text').data(captionLines).enter().append('text')
  .attr('x', 24)
  .attr('y', function(d, i){ return 1329 + i * 25.3; })
  .style('font-size', '18px').style('letter-spacing', '.035px').attr('fill', '#333');
caption.selectAll('tspan').data(function(d){ return d; }).enter().append('tspan')
  .text(function(d){ return d[0]; })
  .style('font-weight', function(d){ return d[1] ? 'bold' : 'normal'; })
  .style('white-space', 'pre');
</script>
</body>
</html>
